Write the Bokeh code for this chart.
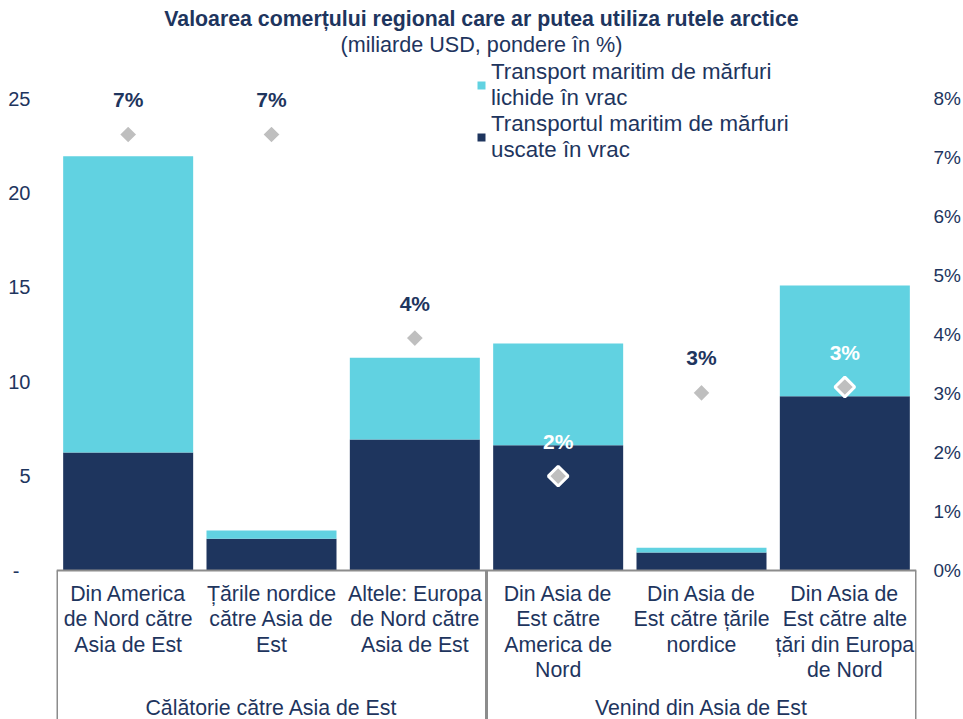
import math
from bokeh.plotting import figure
from bokeh.models import (FactorRange, Range1d, LinearAxis, FixedTicker, PrintfTickFormatter,
                          Span, Legend, LegendItem)
from bokeh.core.properties import value
from bokeh.embed import file_html
from bokeh.resources import INLINE

# ---------------- data ----------------
categories = [
    "Din America\nde Nord către\nAsia de Est",
    "Țările nordice\ncătre Asia de\nEst",
    "Altele: Europa\nde Nord către\nAsia de Est",
    "Din Asia de\nEst către\nAmerica de\nNord",
    "Din Asia de\nEst către țările\nnordice",
    "Din Asia de\nEst către alte\nțări din Europa\nde Nord",
]
groups = ["Călătorie către Asia de Est", "Venind din Asia de Est"]
group_sizes = [3, 3]
dry_bulk = [6.25, 1.68, 6.94, 6.64, 0.95, 9.23]        # Transportul maritim de mărfuri uscate în vrac
liquid_bulk = [15.69, 0.44, 4.33, 5.38, 0.25, 5.86]    # Transport maritim de mărfuri lichide în vrac
share_pct = [7.39, 7.39, 3.94, 1.60, 3.01, 3.11]       # pondere (%)
left_ticks = [0, 5, 10, 15, 20, 25]
right_ticks = [0, 1, 2, 3, 4, 5, 6, 7, 8]
series_names = ["Transportul maritim de mărfuri\nuscate în vrac",
                "Transport maritim de mărfuri\nlichide în vrac"]
title_text = "Valoarea comerțului regional care ar putea utiliza rutele arctice"
subtitle_text = "(miliarde USD, pondere în %)"

# ---------------- style ----------------
NAVY = "#1E355E"
CYAN = "#61D2E1"
GRAY_D = "#BFBFBF"
SEP = "#8C8C8C"
FONT = "Liberation Sans"
FS = "21.3px"

W, H = 963, 719
LEFT, RIGHT = 56, 47
ZERO_PX, TOP_PX = 570, 98           # vertical pixel of 0 and of 25
px_per_unit = (ZERO_PX - TOP_PX) / 25.0
y_max = ZERO_PX / px_per_unit
y_min = -(H - ZERO_PX) / px_per_unit
ratio = 8.0 / 25.0

p = figure(width=W, height=H, x_range=FactorRange(*categories, range_padding=0),
           y_range=Range1d(y_min, y_max), output_backend="svg", toolbar_location=None,
           x_axis_location=None, min_border_left=LEFT, min_border_right=RIGHT,
           min_border_top=0, min_border_bottom=0)
p.outline_line_color = None
p.grid.visible = False
p.background_fill_color = "white"
p.border_fill_color = "white"

p.extra_y_ranges = {"share": Range1d(y_min * ratio, y_max * ratio)}

def style_axis(a, standoff, size):
    a.axis_line_color = None
    a.major_tick_line_color = None
    a.minor_tick_line_color = None
    a.major_tick_out = 0
    a.major_tick_in = 0
    a.minor_tick_out = 0
    a.minor_tick_in = 0
    a.major_label_standoff = standoff
    a.major_label_text_font = FONT
    a.major_label_text_font_size = size
    a.major_label_text_color = NAVY

# left axis
ax = p.yaxis[0]
ax.ticker = FixedTicker(ticks=left_ticks)
ax.major_label_overrides = {0: "-\u2007"}
style_axis(ax, 26, "20px")

# right axis
rax = LinearAxis(y_range_name="share", ticker=FixedTicker(ticks=right_ticks),
                 formatter=PrintfTickFormatter(format="%d%%"))
style_axis(rax, 17, "19px")
p.add_layout(rax, "right")

# stacked bars
src = dict(cat=categories, dry=dry_bulk, liquid=liquid_bulk)
rends = p.vbar_stack(["dry", "liquid"], x="cat", width=0.907, color=[NAVY, CYAN],
                     line_color=None, source=src)

# baseline and group separators
p.add_layout(Span(location=0, dimension="width", line_color=SEP, line_width=2))
bounds = [0]
for s in group_sizes:
    bounds.append(bounds[-1] + s)
p.segment(x0=bounds, y0=[0] * len(bounds), x1=bounds, y1=[y_min] * len(bounds),
          line_color=SEP, line_width=3)

# category labels
p.text(x=categories, y=[-0.62] * len(categories), text=categories,
       text_align="center", text_baseline="top", text_font=value(FONT),
       text_font_size=FS, text_color=NAVY, text_line_height=1.05)
# group labels
centers = [(bounds[i] + bounds[i + 1]) / 2 for i in range(len(groups))]
p.text(x=centers, y=[-7.26] * len(groups), text=groups, text_align="center",
       text_baseline="middle", text_font=value(FONT), text_font_size=FS,
       text_color=NAVY)

# share diamonds
p.scatter(x=categories, y=share_pct, y_range_name="share", marker="square",
          angle=math.pi / 4, size=14, fill_color=GRAY_D, line_color="white", line_width=3)
totals = [d + l for d, l in zip(dry_bulk, liquid_bulk)]
label_colors = ["white" if s / ratio < t else NAVY for s, t in zip(share_pct, totals)]
p.text(x=categories, y=share_pct, y_range_name="share",
       text=[f"{round(s)}%" for s in share_pct], y_offset=-35,
       text_align="center", text_baseline="middle", text_font=value(FONT),
       text_font_size="21px", text_font_style="bold", text_color=label_colors)

# title
mid = bounds[-1] / 2
p.text(x=[mid], y=[(ZERO_PX - 18) / px_per_unit], text=[title_text], x_offset=-5,
       text_align="center", text_baseline="middle", text_font=value(FONT),
       text_font_size=FS, text_font_style="bold", text_color=NAVY)
p.text(x=[mid], y=[(ZERO_PX - 44) / px_per_unit], text=[subtitle_text], x_offset=-5,
       text_align="center", text_baseline="middle", text_font=value(FONT),
       text_font_size="21.6px", text_color=NAVY)

# legend
legend = Legend(items=[LegendItem(label=series_names[1], renderers=[rends[1]]),
                       LegendItem(label=series_names[0], renderers=[rends[0]])],
                location=(420, 556), orientation="vertical")
legend.border_line_color = None
legend.background_fill_alpha = 0
legend.padding = 0
legend.margin = 0
legend.spacing = 0
legend.glyph_width = 10
legend.glyph_height = 10
legend.label_standoff = 5
legend.label_text_font = FONT
legend.label_text_font_size = "22.3px"
legend.label_text_color = NAVY
legend.label_text_line_height = 0.89
p.add_layout(legend, "center")

open("out.html", "w").write(file_html(p, INLINE))
